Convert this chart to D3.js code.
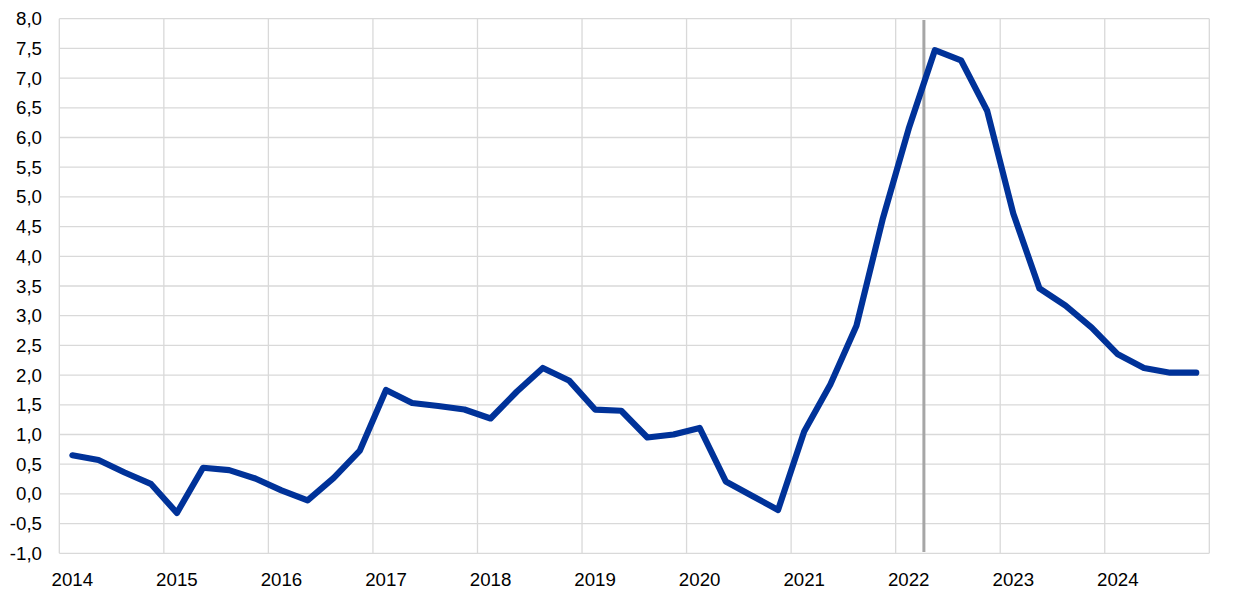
<!DOCTYPE html>
<html><head><meta charset="utf-8">
<script src="https://cdn.jsdelivr.net/npm/d3@7"></script>
<style>body{margin:0;background:#fff}svg{display:block}</style>
</head><body><svg id="c" width="1240" height="596"></svg>
<script>
const years = ["2014","2015","2016","2017","2018","2019","2020","2021","2022","2023","2024"];
const values = [0.65,0.57,0.36,0.17,-0.32,0.44,0.40,0.26,0.06,-0.11,0.27,0.73,
  1.75,1.53,1.48,1.42,1.27,1.72,2.12,1.91,1.42,1.40,0.95,1.00,
  1.11,0.21,-0.03,-0.27,1.05,1.84,2.83,4.62,6.15,7.47,7.30,6.45,
  4.72,3.46,3.17,2.80,2.35,2.12,2.04,2.04];
const yTicks = d3.range(-1, 8.001, 0.5);
const markerIndex = 32.58;

const svg = d3.select("#c");
const L = 59.3, R = 1209.3, T = 18.7, B = 553.3;
const x = d3.scaleLinear().domain([-0.5, values.length - 0.5]).range([L, R]);
const y = d3.scaleLinear().domain([-1, 8]).range([B, T]);
const fmt = v => d3.format(".1f")(v).replace(".", ",").replace("−","-");
const font = "'Liberation Sans', Arial, sans-serif";

svg.append("g").selectAll("line").data(yTicks).join("line")
  .attr("x1", L).attr("x2", R).attr("y1", d => y(d)).attr("y2", d => y(d))
  .attr("stroke", "#d9d9d9").attr("stroke-width", 1.3);
const yearBounds = d3.range(0, years.length + 1).map(i => i * 4 - 0.5);
svg.append("g").selectAll("line").data(yearBounds).join("line")
  .attr("x1", d => x(d)).attr("x2", d => x(d)).attr("y1", T).attr("y2", B)
  .attr("stroke", "#d9d9d9").attr("stroke-width", 1.3);

svg.append("g").selectAll("text").data(yTicks).join("text")
  .attr("x", 42).attr("y", d => y(d)).attr("dy", "0.35em")
  .attr("text-anchor", "end").attr("font-family", font).attr("font-size", 18.7)
  .attr("fill", "#000").text(d => fmt(d));
svg.append("g").selectAll("text").data(years).join("text")
  .attr("x", (d, i) => x(i * 4)).attr("y", 586)
  .attr("text-anchor", "middle").attr("font-family", font).attr("font-size", 18.7)
  .attr("fill", "#000").text(d => d);

svg.append("line").attr("x1", x(markerIndex)).attr("x2", x(markerIndex))
  .attr("y1", 20).attr("y2", 552).attr("stroke", "#a6a6a6").attr("stroke-width", 3);

svg.append("path").datum(values)
  .attr("d", d3.line().x((d, i) => x(i)).y(d => y(d)))
  .attr("fill", "none").attr("stroke", "#003299").attr("stroke-width", 6.2)
  .attr("stroke-linejoin", "round").attr("stroke-linecap", "round");
</script></body></html>
